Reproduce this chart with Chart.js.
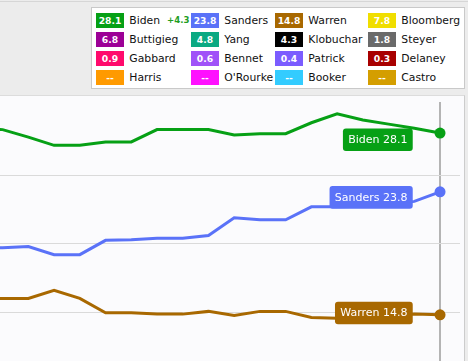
<!DOCTYPE html>
<html>
<head>
<meta charset="utf-8">
<script src="https://cdn.jsdelivr.net/npm/chart.js@4/dist/chart.umd.min.js"></script>
<style>
  html, body { margin: 0; padding: 0; }
  body { width: 468px; height: 361px; overflow: hidden; position: relative; background: #ececec; font-family: "DejaVu Sans", Verdana, sans-serif; }
  #topline { position: absolute; left: 0; top: 1px; width: 468px; height: 1px; background: #d6d6d6; }
  #legend { position: absolute; left: 91px; top: 7px; width: 372px; height: 80px; background: #fff; border: 1px solid #c9c9c9; }
  .sw { position: absolute; width: 28px; height: 15px; line-height: 15px; color: #fff; font-size: 9.2px; font-weight: bold; text-align: center; }
  .nm { position: absolute; height: 15px; line-height: 15px; color: #111; font-size: 10.8px; white-space: nowrap; }
  .chg { position: absolute; height: 15px; line-height: 15px; color: #1f9e1f; font-size: 8.6px; font-weight: bold; }
  #frame { position: absolute; left: -1px; top: 95px; width: 465px; height: 270px; background: #fbfbfd; border-top: 1px solid #dcdcdc; border-right: 1px solid #cccccc; }
  #wrap { position: absolute; left: 0; top: 96px; width: 460px; height: 265px; }
</style>
</head>
<body>
<div id="topline"></div>
<div id="legend"></div>
<div id="frame"></div>
<div id="wrap"><canvas id="c" width="460" height="265"></canvas></div>
<script>
// ---- Legend data (row-major, 4 columns) ----
const legendNames  = ["Biden", "Sanders", "Warren", "Bloomberg",
                      "Buttigieg", "Yang", "Klobuchar", "Steyer",
                      "Gabbard", "Bennet", "Patrick", "Delaney",
                      "Harris", "O'Rourke", "Booker", "Castro"];
const legendValues = [28.1, 23.8, 14.8, 7.8,
                      6.8, 4.8, 4.3, 1.8,
                      0.9, 0.6, 0.4, 0.3,
                      null, null, null, null];
const legendColors = ["#06a015", "#5a72f8", "#a86800", "#f0de00",
                      "#9c0096", "#0aa982", "#000000", "#6a6a6a",
                      "#ff0a6c", "#a052f8", "#7b5cff", "#a80000",
                      "#ff9a00", "#ff10ff", "#33ccff", "#d49e00"];
const bidenChange = "+4.3";

// ---- Line data (poll dates, oldest first) ----
const pollIndex = [0, 1, 2, 3, 4, 5, 6, 7, 8, 9, 10, 11, 12, 13, 14, 15, 16, 17, 18];
const biden   = [28.5, 28.35, 27.8, 27.2, 27.2, 27.45, 27.45, 28.35, 28.35, 28.35, 27.95, 28.05, 28.05, 28.85, 29.5, 29.05, 28.75, 28.45, 28.1];
const sanders = [19.7, 19.7, 19.8, 19.2, 19.2, 20.25, 20.3, 20.4, 20.4, 20.6, 21.9, 21.75, 21.75, 22.7, 22.7, 22.75, 22.85, 23.1, 23.8];
const warren  = [15.95, 16.0, 16.0, 16.6, 16.0, 14.95, 14.95, 14.85, 14.85, 15.05, 14.75, 15.05, 15.05, 14.6, 14.55, 14.6, 14.7, 14.85, 14.8];
const yGridValues = [15, 20, 25];
const latestIndex = 18;

// ---- Build HTML legend ----
const colLeft = [96, 191, 275, 368];
const legend = document.body;
legendNames.forEach((name, i) => {
  const row = Math.floor(i / 4), col = i % 4;
  const top = 12.7 + row * 19.1;
  const sw = document.createElement('div');
  sw.className = 'sw';
  sw.style.left = colLeft[col] + 'px';
  sw.style.top = top + 'px';
  sw.style.background = legendColors[i];
  sw.textContent = legendValues[i] == null ? '--' : legendValues[i].toFixed(1);
  legend.appendChild(sw);
  const nm = document.createElement('div');
  nm.className = 'nm';
  nm.style.left = (colLeft[col] + 33.3) + 'px';
  nm.style.top = top + 'px';
  nm.textContent = name;
  legend.appendChild(nm);
  if (i === 0) {
    const ch = document.createElement('div');
    ch.className = 'chg';
    ch.style.left = '167px';
    ch.style.top = top + 'px';
    ch.textContent = bidenChange;
    legend.appendChild(ch);
  }
});

// ---- Chart ----
const series = [
  { label: 'Biden',   values: biden,   color: legendColors[0], dy: 6.7 },
  { label: 'Sanders', values: sanders, color: legendColors[1], dy: 5.5 },
  { label: 'Warren',  values: warren,  color: legendColors[2], dy: -1.8 }
];

const endLabels = {
  id: 'endLabels',
  afterDatasetsDraw(chart) {
    const ctx = chart.ctx;
    ctx.save();
    ctx.font = '11px "DejaVu Sans", Verdana, sans-serif';
    chart.data.datasets.forEach((ds, di) => {
      const meta = chart.getDatasetMeta(di);
      const el = meta.data[meta.data.length - 1];
      const v = ds.data[ds.data.length - 1].y;
      const text = ds.label + ' ' + v.toFixed(1);
      const w = ctx.measureText(text).width + 10.5;
      const h = 22.7;
      const right = el.x - 27.3;
      const cy = el.y + ds.labelDy;
      ctx.fillStyle = ds.borderColor;
      ctx.beginPath();
      ctx.roundRect(right - w, cy - h / 2, w, h, 3);
      ctx.fill();
      ctx.fillStyle = '#ffffff';
      ctx.textAlign = 'center';
      ctx.textBaseline = 'middle';
      ctx.fillText(text, right - w / 2, cy + 0.5);
    });
    ctx.restore();
  }
};

new Chart(document.getElementById('c'), {
  type: 'line',
  data: {
    datasets: series.map(s => ({
      label: s.label,
      data: pollIndex.map((x, i) => ({ x: x, y: s.values[i] })),
      borderColor: s.color,
      backgroundColor: s.color,
      borderWidth: 3,
      tension: 0,
      labelDy: s.dy,
      pointRadius: c => c.dataIndex === latestIndex ? 5.5 : 0,
      pointHoverRadius: 0,
      pointBorderWidth: 0
    }))
  },
  options: {
    responsive: false,
    animation: false,
    events: [],
    layout: { autoPadding: false, padding: { top: 6, left: 0, right: 0, bottom: 0 } },
    plugins: { legend: { display: false }, tooltip: { enabled: false } },
    scales: {
      x: {
        type: 'linear',
        min: 0.898,
        max: 18.776,
        afterBuildTicks: s => { s.ticks = [{ value: latestIndex }]; },
        ticks: { display: false },
        border: { display: false },
        grid: { drawTicks: false, color: '#b4b4b4', lineWidth: 2 }
      },
      y: {
        type: 'linear',
        min: 11.42,
        max: 30.37,
        afterBuildTicks: s => { s.ticks = yGridValues.map(v => ({ value: v })); },
        ticks: { display: false },
        border: { display: false },
        grid: { drawTicks: false, color: '#dadada', lineWidth: 1 }
      }
    }
  },
  plugins: [endLabels]
});
</script>
</body>
</html>
